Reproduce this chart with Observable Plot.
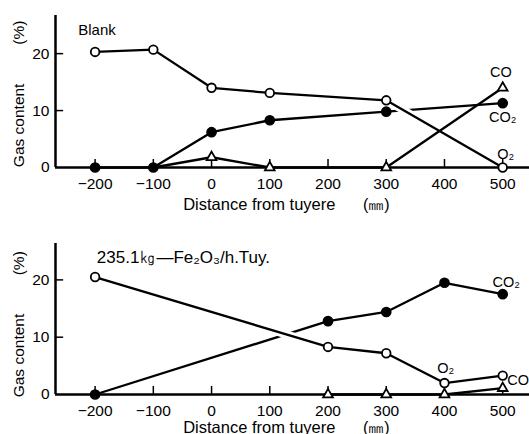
<!DOCTYPE html>
<html>
<head>
<meta charset="utf-8">
<script src="https://cdn.jsdelivr.net/npm/d3@7"></script>
<script src="https://cdn.jsdelivr.net/npm/@observablehq/plot@0.6"></script>
<style>
  html, body { margin: 0; padding: 0; background: white; }
  #chart svg { display: block; }
</style>
</head>
<body>
<div id="chart"></div>
<script>
// ---- data ----
const xTicks = [-200, -100, 0, 100, 200, 300, 400, 500];
const yTicks = [0, 10, 20];

// Top panel: Blank
const topX = [-200, -100, 0, 100, 300, 500];
const topO2 = [20.3, 20.7, 14.0, 13.1, 11.8, 0];
const topCO2 = [0, 0, 6.2, 8.3, 9.8, 11.3];
const topCOx = [-100, 0, 100, 300, 500];
const topCO = [0, 1.8, 0, 0, 14.0];

// Bottom panel: 235.1 kg-Fe2O3/h.Tuy.
const botX = [-200, 200, 300, 400, 500];
const botO2 = [20.5, 8.3, 7.2, 2.0, 3.3];
const botCO2 = [0, 12.8, 14.4, 19.5, 17.5];
const botCOx = [200, 300, 400, 500];
const botCO = [0, 0, 0, 1.1];

const topTitle = [{text: "Blank", x: -229, y: 24.1}];
const botTitle = [{text: "235.1㎏—Fe₂O₃/h.Tuy.", x: -197, y: 23.9}];
const topLabels = [
  {text: "CO", x: 497, y: 16.7, anchor: "middle"},
  {text: "CO₂", x: 500, y: 8.8, anchor: "middle"},
  {text: "O₂", x: 505, y: 2.3, anchor: "middle"}
];
const botLabels = [
  {text: "CO₂", x: 506, y: 19.5, anchor: "middle"},
  {text: "O₂", x: 402, y: 4.5, anchor: "middle"},
  {text: "CO", x: 508, y: 2.4, anchor: "start"}
];
// y-axis title pieces (value at which each piece is centred)
const topYTitle = [{text: "Gas content", y: 7.4}, {text: "(%)", y: 23.7}];
const botYTitle = [{text: "Gas content", y: 6.8}, {text: "(%)", y: 22.9}];

const zip = (xs, ys) => xs.map((x, i) => ({x, y: ys[i]}));
const X0 = -268;

function panel({o2, co2, co, coMarkers, title, titleSize, labels, yTitle, yMax, marginTop, marginBottom, labelDy}) {
  const FONT = 15.5;
  return Plot.plot({
    width: 529,
    height: 217,
    marginLeft: 55,
    marginRight: 0,
    marginTop,
    marginBottom,
    style: {fontFamily: "'Liberation Sans', Arial, sans-serif", fontSize: FONT + "px", background: "white", color: "black"},
    x: {domain: [X0, 546]},
    y: {domain: [0, yMax]},
    marks: [
      Plot.axisX({ticks: xTicks, tickSize: 0, tickPadding: 10, fontSize: FONT, label: null}),
      Plot.axisY({ticks: yTicks, tickSize: 0, tickPadding: 6, fontSize: FONT, label: null}),
      Plot.line(co2, {x: "x", y: "y", stroke: "black", strokeWidth: 2.3}),
      Plot.line(o2, {x: "x", y: "y", stroke: "white", strokeWidth: 8}),
      Plot.line(o2, {x: "x", y: "y", stroke: "black", strokeWidth: 2.3}),
      Plot.line(co, {x: "x", y: "y", stroke: "black", strokeWidth: 2.3}),
      Plot.ruleY([0], {stroke: "black", strokeWidth: 2.5}),
      Plot.ruleX([X0], {stroke: "black", strokeWidth: 2.5}),
      Plot.ruleX(xTicks, {x: d => d, y1: 0, y2: 1.4, stroke: "black", strokeWidth: 1.5}),
      Plot.ruleY(yTicks.slice(1), {y: d => d, x1: X0, x2: X0 + 14, stroke: "black", strokeWidth: 1.5}),
      Plot.dot(co2, {x: "x", y: "y", r: 4.6, fill: "black", stroke: "black"}),
      Plot.dot(o2, {x: "x", y: "y", r: 4.3, fill: "white", stroke: "black", strokeWidth: 1.8}),
      Plot.dot(coMarkers, {x: "x", y: "y", r: 3.6, symbol: "triangle", fill: "white", stroke: "black", strokeWidth: 1.8}),
      Plot.text(title, {x: "x", y: "y", text: "text", textAnchor: "start", fontSize: titleSize, fill: "black"}),
      Plot.text(labels, {filter: d => d.anchor === "start", x: "x", y: "y", text: "text", textAnchor: "start", fontSize: 14.5, fill: "black"}),
      Plot.text(labels, {filter: d => d.anchor === "middle", x: "x", y: "y", text: "text", textAnchor: "middle", fontSize: 14.5, fill: "black"}),
      Plot.text(yTitle, {x: X0, y: "y", text: "text", dx: -36, rotate: -90, fontSize: 15.5, fill: "black"}),
      Plot.text(["Distance from tuyere"], {x: 82, frameAnchor: "bottom", dy: labelDy, fontSize: 16.5, fill: "black"}),
      Plot.text(["(㎜)"], {x: 283, frameAnchor: "bottom", dy: labelDy, fontSize: 16, fill: "black"})
    ]
  });
}

const topCOdata = zip(topCOx, topCO);
const topPanel = panel({
  o2: zip(topX, topO2),
  co2: zip(topX, topCO2),
  co: topCOdata,
  coMarkers: topCOdata.filter(d => d.x > -100),
  title: topTitle,
  titleSize: 15,
  labels: topLabels,
  yTitle: topYTitle,
  yMax: 26.7,
  marginTop: 15,
  marginBottom: 50,
  labelDy: 42
});
const botCOdata = zip(botCOx, botCO);
const bottomPanel = panel({
  o2: zip(botX, botO2),
  co2: zip(botX, botCO2),
  co: botCOdata,
  coMarkers: botCOdata,
  title: botTitle,
  titleSize: 17,
  labels: botLabels,
  yTitle: botYTitle,
  yMax: 26.35,
  marginTop: 26,
  marginBottom: 40,
  labelDy: 38
});
document.getElementById("chart").append(topPanel, bottomPanel);
</script>
</body>
</html>
